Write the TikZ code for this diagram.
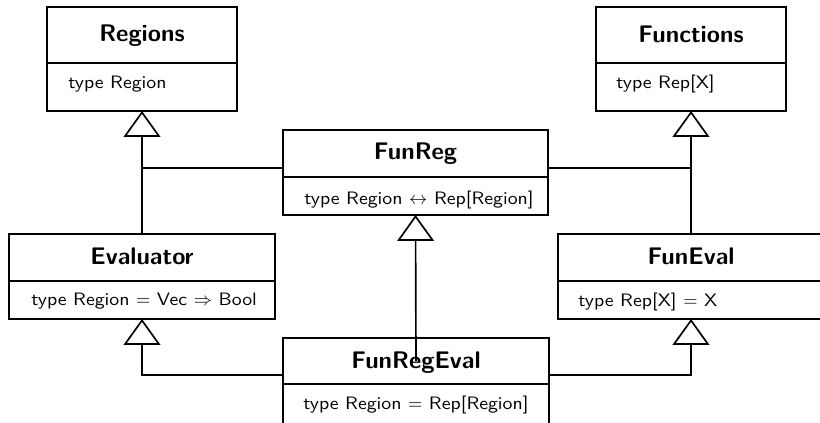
\documentclass[tikz,border=0pt]{standalone}
\usepackage{fontspec}
\usetikzlibrary{arrows.meta}
% Latin Modern Sans; the member lines are set a little wider
\newfontfamily\bodyfont{lmsans10-regular}[Extension=.otf, FakeStretch=1.1]
\newfontfamily\titlefont{lmsans10-bold}[Extension=.otf]
\newcommand\pxu{0.6pt}
\tikzset{
  box/.style={draw, line width=1pt, inner sep=0pt, outer sep=0pt, fill=white},
  title/.style={inner sep=0pt, anchor=base, font=\titlefont\fontsize{14.4}{16}\selectfont},
  member/.style={inner sep=0pt, anchor=base west, font=\bodyfont\fontsize{10.8}{13}\selectfont},
  link/.style={line width=1pt},
  inherit/.style={line width=1pt, -{Triangle[open, length=15.5pt, width=22pt]}}
}
\begin{document}
\begin{tikzpicture}[x=0.6pt, y=-0.6pt]
\clip (0,0) rectangle (820,422);

% Regions
\node[box, minimum width=190*\pxu, minimum height=56*\pxu] (regH) at (142,35) {};
\node[box, minimum width=190*\pxu, minimum height=48*\pxu, anchor=north] (regB) at (regH.south) {};
\node[title] (regT) at (142,41) {Regions};
\node[member] (regM) at (68,88) {type Region};

% Functions
\node[box, minimum width=190*\pxu, minimum height=56*\pxu] (funcH) at (691,35) {};
\node[box, minimum width=190*\pxu, minimum height=48*\pxu, anchor=north] (funcB) at (funcH.south) {};
\node[title] (funcT) at (691,42) {Functions};
\node[member] (funcM) at (616,88) {type Rep[X]};

% FunReg
\node[box, minimum width=265*\pxu, minimum height=47*\pxu] (funregH) at (415.5,153.5) {};
\node[box, minimum width=265*\pxu, minimum height=38*\pxu, anchor=north] (funregB) at (funregH.south) {};
\node[title] (funregT) at (415.5,159) {FunReg};
\node[member] (funregM) at (304,204) {type Region $\leftrightarrow$ Rep[Region]};

% Evaluator
\node[box, minimum width=266*\pxu, minimum height=47*\pxu] (evalH) at (142,257.5) {};
\node[box, minimum width=266*\pxu, minimum height=38*\pxu, anchor=north] (evalB) at (evalH.south) {};
\node[title] (evalT) at (142,264) {Evaluator};
\node[member] (evalM) at (31,305) {type Region $=$ Vec $\Rightarrow$ Bool};

% FunEval
\node[box, minimum width=266*\pxu, minimum height=47*\pxu] (funevalH) at (691,257.5) {};
\node[box, minimum width=266*\pxu, minimum height=38*\pxu, anchor=north] (funevalB) at (funevalH.south) {};
\node[title] (funevalT) at (691,264) {FunEval};
\node[member] (funevalM) at (578,306) {type Rep[X] $=$ X};

% FunRegEval
\node[box, minimum width=266*\pxu, minimum height=46*\pxu] (freH) at (416,361) {};
\node[box, minimum width=266*\pxu, minimum height=46*\pxu, anchor=north] (freB) at (freH.south) {};
\node[title] (freT) at (416,368) {FunRegEval};
\node[member] (freM) at (303,409) {type Region $=$ Rep[Region]};

% junction points of the shared generalisation lines
\coordinate (jl) at (142,168);
\coordinate (jr) at (691,168);
\coordinate (bl) at (142,375);
\coordinate (br) at (691,375);

% generalisations
\draw[inherit] (evalH.north) -- (regB.south);
\draw[link] (funregH.west |- jl) -- (jl);
\draw[inherit] (funevalH.north) -- (funcB.south);
\draw[link] (funregH.east |- jr) -- (jr);
\draw[inherit] (freH.center) -- (funregB.south);
\draw[inherit] (freH.west |- bl) -- (bl) -- (evalB.south);
\draw[inherit] (freH.east |- br) -- (br) -- (funevalB.south);
\end{tikzpicture}
\end{document}
